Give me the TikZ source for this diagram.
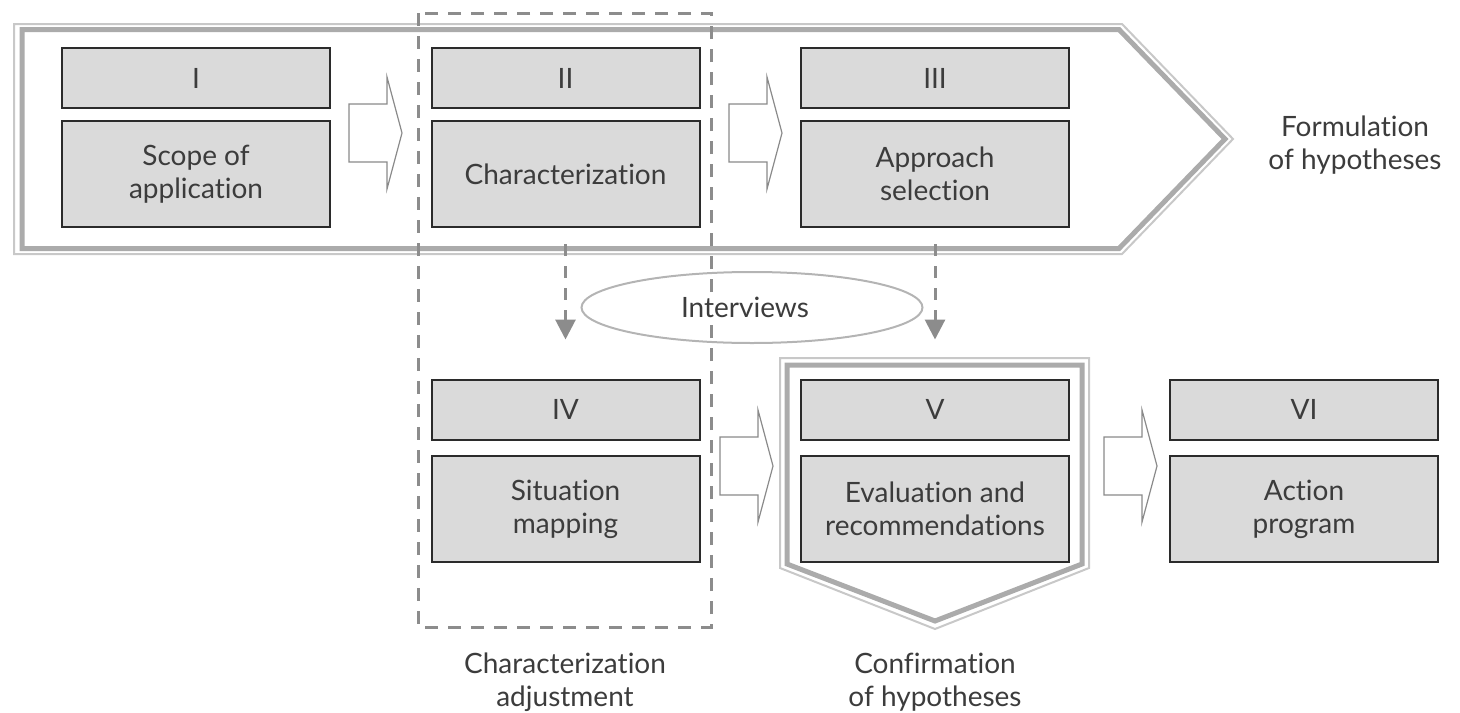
\documentclass[tikz,border=0pt]{standalone}
\usepackage{fontspec}
\setmainfont{Lato}[Ligatures={NoCommon}]
\usetikzlibrary{arrows.meta,shapes.geometric}
\definecolor{boxfill}{HTML}{DADADA}
\definecolor{boxline}{HTML}{2B2B2B}
\definecolor{txt}{HTML}{3C3C3C}
\definecolor{dashc}{HTML}{8C8C8C}
\definecolor{outerg}{HTML}{C8C8C8}
\definecolor{innerg}{HTML}{ABABAB}
\definecolor{arrowline}{HTML}{8A8A8A}
\definecolor{ellc}{HTML}{B4B4B4}
\newcommand\blkarrow[2]{\draw[blk] (#1,#2-29) -- (#1+38,#2-29) -- (#1+38,#2-56) -- (#1+53,#2) -- (#1+38,#2+56) -- (#1+38,#2+29) -- (#1,#2+29) -- cycle;}
\begin{document}
\begin{tikzpicture}[x=0.5pt,y=-0.5pt,
  font=\fontsize{14}{16.5}\selectfont, text=txt,
  hdr/.style={draw=boxline, line width=1pt, fill=boxfill, minimum width=134pt, minimum height=30pt, inner sep=0pt, align=center},
  bdy/.style={hdr, minimum height=53pt},
  blk/.style={draw=arrowline, line width=0.6pt, fill=white, line join=miter},
  lbl/.style={align=center, inner sep=0pt},
  dasharrow/.style={draw=dashc, line width=1.5pt, dash pattern=on 6pt off 5pt, -{Triangle[width=10pt,length=10pt]}, shorten <=8pt, shorten >=19.5pt},
  outerline/.style={draw=outerg, line width=1pt, line join=miter},
  innerline/.style={draw=innerg, line width=2.5pt, line join=miter}
  ]
\useasboundingbox (0,0) rectangle (1460,712);
% big arrow: formulation of hypotheses
\draw[outerline] (14,24) -- (1122,24) -- (1233,139) -- (1122,254) -- (14,254) -- cycle;
\draw[innerline] (22,29.5) -- (1119,29.5) -- (1225,139) -- (1119,248.5) -- (22,248.5) -- cycle;
% pentagon around V
\draw[outerline] (780,358) -- (1089,358) -- (1089,568) -- (935,629) -- (780,568) -- cycle;
\draw[innerline] (787,365) -- (1082,365) -- (1082,564) -- (935,621) -- (787,564) -- cycle;
% ellipse
\node[draw=ellc, line width=1pt, ellipse, minimum width=170.5pt, minimum height=35.5pt, inner sep=0pt] (ell) at (752,307.5) {};
% boxes
\node[hdr] (h1) at (196,78) {I};
\node[bdy] (b1) at (196,174) {Scope of\\application};
\node[hdr] (h2) at (565.5,78) {II};
\node[bdy] (b2) at (565.5,174) {Characterization};
\node[hdr] (h3) at (935,78) {III};
\node[bdy] (b3) at (935,174) {Approach\\selection};
\node[hdr] (h4) at (565.5,409.5) {IV};
\node[bdy] (b4) at (565.5,509) {Situation\\mapping};
\node[hdr] (h5) at (935,409.5) {V};
\node[bdy] (b5) at (935,509) {Evaluation and\\recommendations};
\node[hdr] (h6) at (1304,409.5) {VI};
\node[bdy] (b6) at (1304,509) {Action\\program};
% block arrows
\blkarrow{349}{133}
\blkarrow{729}{133}
\blkarrow{720}{466}
\blkarrow{1104}{466}
% dashed frame
\draw[dashc, line width=1.5pt, dash pattern=on 6.5pt off 5pt] (418,13) rectangle (711,627);
% dashed arrows
\draw[dasharrow] (b2) -- (h4);
\draw[dasharrow] (b3) -- (h5);
% texts
\node[fill=white, inner sep=1.5pt] (int) at (745,307) {Interviews};
\node[lbl] (f) at (1355,145) {Formulation\\of hypotheses};
\node[lbl] (ca) at (565,682) {Characterization\\adjustment};
\node[lbl] (ch) at (935,682) {Confirmation\\of hypotheses};
\end{tikzpicture}
\end{document}
